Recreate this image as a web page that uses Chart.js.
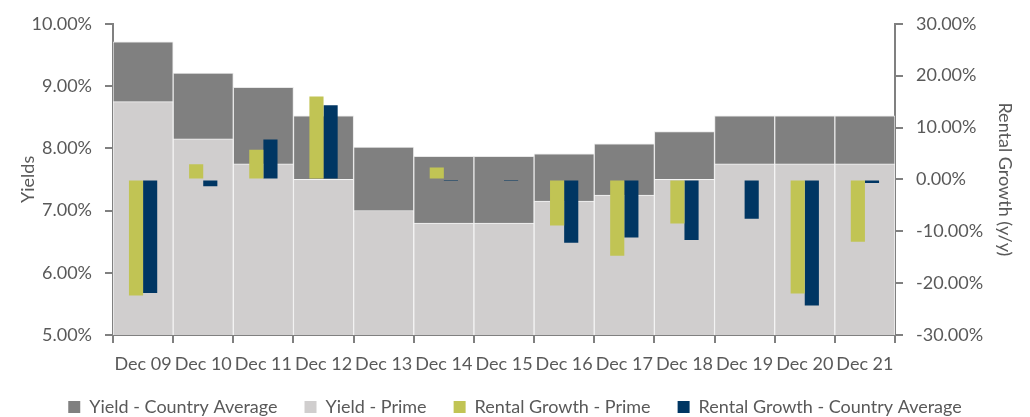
<!DOCTYPE html>
<html>
<head>
<meta charset="utf-8">
<script src="https://cdn.jsdelivr.net/npm/chart.js@4"></script>
<style>
  html, body { margin: 0; padding: 0; background: #fff; }
  #wrap { width: 1030px; height: 417px; }
</style>
</head>
<body>
<div id="wrap"><canvas id="yield_chart"></canvas></div>
<script>
// Chart values
var labels = ['Dec 09', 'Dec 10', 'Dec 11', 'Dec 12', 'Dec 13', 'Dec 14', 'Dec 15',
              'Dec 16', 'Dec 17', 'Dec 18', 'Dec 19', 'Dec 20', 'Dec 21'];
var yieldCountry = [9.71, 9.21, 8.98, 8.52, 8.02, 7.87, 7.87, 7.91, 8.07, 8.27, 8.52, 8.52, 8.52];
var yieldPrime = [8.75, 8.15, 7.75, 7.50, 7.00, 6.80, 6.80, 7.15, 7.25, 7.50, 7.75, 7.75, 7.75];
var rentalPrime = [-22.4, 2.9, 5.7, 16.0, null, 2.3, null, -8.9, -14.7, -8.5, null, -22.0, -12.0];
var rentalCountry = [-21.9, -1.3, 7.7, 14.3, null, -0.3, -0.3, -12.2, -11.2, -11.7, -7.6, -24.3, -0.7];

var textColor = '#595959';
var axisColor = '#808080';
var font = { family: 'Lato', size: 18 };

    // Formats an axis value as a percentage with two decimals
    function pct(value) {
        return Number(value).toFixed(2) + '%';
    }

    function drawYieldChart() {
        var ctx = document.getElementById('yield_chart').getContext('2d');
        var config = {
          type: 'bar',
          data: {
            labels: labels,
            datasets: [{
              label: 'Yield - Country Average',
              data: yieldCountry,
              yAxisID: 'y',
              grouped: false,
              order: 3,
              backgroundColor: '#808080',
              borderColor: '#e8e8e8',
              borderWidth: 1,
              barPercentage: 1,
              categoryPercentage: 1,
            }, {
              label: 'Yield - Prime',
              data: yieldPrime,
              yAxisID: 'y',
              grouped: false,
              order: 2,
              backgroundColor: '#d0cece',
              borderColor: '#f4f4f4',
              borderWidth: 1,
              barPercentage: 1,
              categoryPercentage: 1,
            }, {
              label: 'Rental Growth - Prime',
              data: rentalPrime,
              yAxisID: 'y1',
              order: 1,
              backgroundColor: '#c1c454',
              borderWidth: 0,
              barPercentage: 1,
              categoryPercentage: 0.47,
            }, {
              label: 'Rental Growth - Country Average',
              data: rentalCountry,
              yAxisID: 'y1',
              order: 1,
              backgroundColor: '#003663',
              borderWidth: 0,
              barPercentage: 1,
              categoryPercentage: 0.47,
            }],
          },
          options: {
            responsive: true,
            maintainAspectRatio: false,
            animation: false,
            layout: {
              padding: { top: 19, bottom: -9, left: 0, right: 0 },
            },
            scales: {
              x: {
                offset: true,
                grid: { offset: true, drawOnChartArea: false, tickLength: 8, color: axisColor, lineWidth: 2 },
                border: { color: axisColor, width: 2 },
                ticks: { color: textColor, font: font, maxRotation: 0, autoSkip: false, padding: 10 },
                afterFit: function (scale) { scale.height = 36; },
              },
              y: {
                position: 'left',
                min: 5,
                max: 10,
                grid: { drawOnChartArea: false, tickLength: 8, color: axisColor, lineWidth: 2 },
                border: { color: axisColor, width: 2 },
                ticks: { stepSize: 1, color: textColor, font: font, padding: 13, callback: pct },
                title: { display: true, text: 'Yields', color: textColor, font: font, padding: { top: 17, bottom: 0 } },
                afterFit: function (scale) { scale.width = 113; },
              },
              y1: {
                position: 'right',
                min: -30,
                max: 30,
                grid: { drawOnChartArea: false, tickLength: 8, color: axisColor, lineWidth: 2 },
                border: { color: axisColor, width: 2 },
                ticks: { stepSize: 10, color: textColor, font: font, padding: 13, callback: pct },
                title: { display: true, text: 'Rental Growth (y/y)', color: textColor, font: font, padding: { top: 14, bottom: 0 } },
                afterFit: function (scale) { scale.width = 135; },
              }
            },
            plugins: {
              legend: {
                position: 'bottom',
                labels: {
                  color: textColor,
                  font: font,
                  boxWidth: 12,
                  boxHeight: 12,
                  padding: 27,
                  sort: function (a, b) { return a.datasetIndex - b.datasetIndex; },
                  generateLabels: function (chart) {
                    return Chart.defaults.plugins.legend.labels.generateLabels(chart).map(function (item) {
                      item.lineWidth = 0;
                      return item;
                    });
                  }
                }
              },
              tooltip: { enabled: false },
            }
          }
        };
        new Chart(ctx, config);
    }

    drawYieldChart();
</script>
</body>
</html>
